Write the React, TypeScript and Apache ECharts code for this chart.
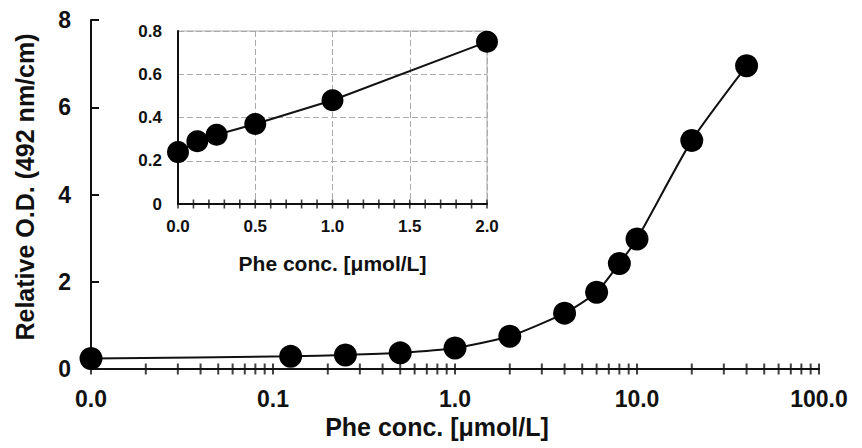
import React, { useEffect, useRef } from "react";
import * as echarts from "echarts";

// Phe concentration (µmol/L) and relative O.D. (492 nm/cm)
const concentrations = [0, 0.125, 0.25, 0.5, 1, 2, 4, 6, 8, 10, 20, 40];
const odValues = [0.24, 0.29, 0.32, 0.37, 0.48, 0.75, 1.28, 1.76, 2.42, 2.98, 5.24, 6.95];

// inset uses the low-concentration subset
const insetConcentrations = [0, 0.125, 0.25, 0.5, 1, 2];
const insetOdValues = [0.24, 0.29, 0.32, 0.37, 0.48, 0.75];

// log-axis tick marks (major + minor)
const mainTickValues = [
  0.01, 0.02, 0.03, 0.04, 0.05, 0.06, 0.07, 0.08, 0.09,
  0.1, 0.2, 0.3, 0.4, 0.5, 0.6, 0.7, 0.8, 0.9,
  1, 2, 3, 4, 5, 6, 7, 8, 9,
  10, 20, 30, 40, 50, 60, 70, 80, 90,
  100,
];
const insetTickValues = [
  0, 0.1, 0.2, 0.3, 0.4, 0.5, 0.6, 0.7, 0.8, 0.9, 1.0,
  1.1, 1.2, 1.3, 1.4, 1.5, 1.6, 1.7, 1.8, 1.9, 2.0,
];

const LOG_MIN = 0.01;
const FONT = "'Liberation Sans', Arial, Helvetica, sans-serif";
const INK = "#111";

export default function App() {
  const ref = useRef<HTMLDivElement>(null);

  useEffect(() => {
    if (!ref.current) return;
    const chart = echarts.init(ref.current, null, { renderer: "svg" });

    const mainData = concentrations.map((x, i) => [x === 0 ? LOG_MIN : x, odValues[i]]);
    const insetData = insetConcentrations.map((x, i) => [x, insetOdValues[i]]);

    const option: any = {
      animation: false,
      backgroundColor: "#fff",
      grid: [
        { left: 91, top: 20, width: 728, height: 349 },
        {
          left: 178, top: 31, width: 309, height: 173,
          show: true, backgroundColor: "#fff", borderColor: "#aaa", borderWidth: 1,
        },
      ],
      xAxis: [
        {
          type: "log",
          gridIndex: 0,
          logBase: 10,
          min: 0.01,
          max: 100,
          axisLine: { show: true, lineStyle: { color: INK, width: 2 } },
          axisTick: { show: false },
          splitLine: { show: false },
          axisLabel: {
            margin: 18,
            fontSize: 23,
            fontWeight: "bold",
            fontFamily: FONT,
            color: INK,
            formatter: (v: number) => (v < 0.05 ? "0.0" : v.toFixed(1)),
          },
          name: "Phe conc. [\u03bcmol/L]",
          nameLocation: "middle",
          nameGap: 43,
          nameTextStyle: {
            fontSize: 25,
            fontWeight: "bold",
            fontFamily: FONT,
            color: INK,
            padding: [0, 36, 0, 0],
          },
        },
        {
          type: "value",
          gridIndex: 1,
          min: 0,
          max: 2,
          interval: 0.5,
          axisLine: { show: true, lineStyle: { color: INK, width: 2 } },
          axisTick: { show: false },
          splitLine: { show: true, lineStyle: { color: "#aaa", type: [6, 3], width: 1 } },
          axisLabel: {
            margin: 14,
            fontSize: 17,
            fontWeight: "bold",
            fontFamily: FONT,
            color: INK,
            formatter: (v: number) => v.toFixed(1),
          },
          name: "Phe conc. [\u03bcmol/L]",
          nameLocation: "middle",
          nameGap: 49,
          nameTextStyle: {
            fontSize: 21,
            fontWeight: "bold",
            fontFamily: FONT,
            color: INK,
          },
        },
      ],
      yAxis: [
        {
          type: "value",
          gridIndex: 0,
          min: 0,
          max: 8,
          interval: 2,
          axisLine: { show: true, lineStyle: { color: INK, width: 2 } },
          axisTick: { show: true, inside: true, length: 8, lineStyle: { color: INK, width: 2 } },
          splitLine: { show: false },
          axisLabel: {
            margin: 20,
            fontSize: 23,
            fontWeight: "bold",
            fontFamily: FONT,
            color: INK,
          },
          name: "Relative O.D. (492 nm/cm)",
          nameLocation: "middle",
          nameRotate: 90,
          nameGap: 54,
          nameTextStyle: {
            fontSize: 25,
            fontWeight: "bold",
            fontFamily: FONT,
            color: INK,
            padding: [0, 0, 0, 15],
          },
        },
        {
          type: "value",
          gridIndex: 1,
          min: 0,
          max: 0.8,
          interval: 0.2,
          axisLine: { show: true, lineStyle: { color: INK, width: 2 } },
          axisTick: { show: false },
          splitLine: { show: true, lineStyle: { color: "#aaa", type: [6, 3], width: 1 } },
          axisLabel: {
            margin: 16,
            fontSize: 17,
            fontWeight: "bold",
            fontFamily: FONT,
            color: INK,
            formatter: (v: number) => (v === 0 ? "0" : v.toFixed(1)),
          },
        },
      ],
      series: [
        {
          type: "scatter",
          xAxisIndex: 0,
          yAxisIndex: 0,
          data: mainTickValues.map((v) => [v, 0]),
          symbol: "rect",
          symbolSize: [2, 11],
          itemStyle: { color: INK },
          clip: false,
          silent: true,
          z: 2,
        },
        {
          type: "line",
          xAxisIndex: 0,
          yAxisIndex: 0,
          data: mainData,
          smooth: 0.2,
          symbol: "circle",
          symbolSize: 23,
          lineStyle: { color: INK, width: 2 },
          itemStyle: { color: "#000" },
          clip: false,
          z: 3,
        },
        {
          type: "scatter",
          xAxisIndex: 1,
          yAxisIndex: 1,
          data: insetTickValues.map((v) => [v, 0]),
          symbol: "rect",
          symbolSize: [1.6, 9],
          itemStyle: { color: INK },
          clip: false,
          silent: true,
          z: 2,
        },
        {
          type: "line",
          xAxisIndex: 1,
          yAxisIndex: 1,
          data: insetData,
          symbol: "circle",
          symbolSize: 22,
          lineStyle: { color: INK, width: 2 },
          itemStyle: { color: "#000" },
          clip: false,
          z: 3,
        },
      ],
    };

    chart.setOption(option);
    return () => chart.dispose();
  }, []);

  return (
    <div
      ref={ref}
      style={{ position: "fixed", left: 0, top: 0, width: 862, height: 448, background: "#fff" }}
    />
  );
}
